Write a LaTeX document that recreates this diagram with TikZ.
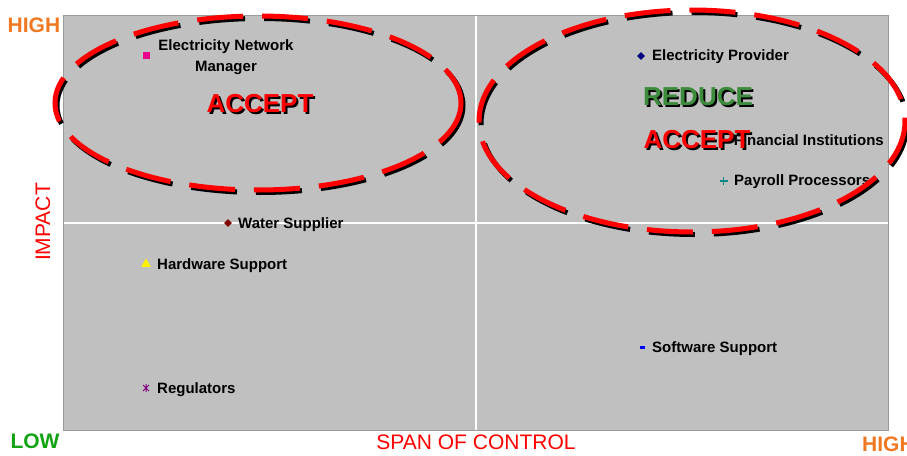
\documentclass[tikz,border=0pt]{standalone}
\usepackage{fontspec}
\setmainfont{Liberation Sans}
\usetikzlibrary{shapes.geometric}
\definecolor{plotgray}{HTML}{C0C0C0}
\definecolor{framegray}{HTML}{9A9A9A}
\definecolor{hiorange}{HTML}{F07822}
\definecolor{logreen}{HTML}{12A312}
\definecolor{reducegreen}{HTML}{3C8C3C}
\definecolor{regpurple}{HTML}{800080}
\definecolor{payteal}{HTML}{008A8A}
\tikzset{
  lbl/.style={font=\fontsize{15}{21}\selectfont\bfseries, inner sep=0pt, text=black},
  bigword/.style={font=\fontsize{26}{30}\selectfont\bfseries, inner sep=0pt},
  axis/.style={font=\fontsize{21}{24}\selectfont\bfseries, inner sep=0pt},
  axtitle/.style={font=\fontsize{21}{24}\selectfont, inner sep=0pt, text=red},
  ring/.style={line width=5pt, dash pattern=on 46pt off 19pt},
  mk/.style={inner sep=0pt, draw=none}
}
\begin{document}
\begin{tikzpicture}[x=1pt,y=-1pt]
\useasboundingbox (0,0) rectangle (907,455);
% plot area
\fill[plotgray] (63,15) rectangle (888,430);
\draw[white, line width=1.2pt] (476,15) -- (476,430);
\draw[white, line width=1.2pt] (63,223) -- (888,223);
\draw[framegray, line width=1pt] (63,15) rectangle (888,430);
% axis labels
\node[axis, text=hiorange] (hiY) at (34,25) {HIGH};
\node[axis, text=logreen] (loX) at (35,441) {LOW};
\node[axis, text=hiorange, anchor=west] (hiX) at (862,444) {HIGH};
\node[axtitle] (spanT) at (476,442) {SPAN OF CONTROL};
\node[axtitle, rotate=90] (impT) at (43,222) {IMPACT};
% markers and labels
\node[mk, fill=magenta, minimum size=7pt] (enmM) at (146,55) {};
\node[lbl, align=center] (enmL) at (226,57) {Electricity Network\\Manager};
\node[mk, diamond, fill={rgb,255:red,128;green,0;blue,0}, minimum size=8pt] (wsM) at (228,223) {};
\node[lbl, anchor=west] (wsL) at (238,225) {Water Supplier};
\node[mk, regular polygon, regular polygon sides=3, fill=yellow, minimum size=11pt] (hwM) at (146,264) {};
\node[lbl, anchor=west] (hwL) at (157,266) {Hardware Support};
\draw[regpurple, line width=1pt] (143,385) -- (149,391) (143,391) -- (149,385) (146,384) -- (146,392);
\node[lbl, anchor=west] (regL) at (157,390) {Regulators};
\fill[blue] (640,346) rectangle (645,348.5);
\node[lbl, anchor=west] (swL) at (652,349) {Software Support};
\node[mk, diamond, fill={rgb,255:red,0;green,0;blue,128}, minimum size=8pt] (epM) at (641,56) {};
\node[lbl, anchor=west] (epL) at (652,57) {Electricity Provider};
\node[lbl, anchor=east] (fiL) at (884,140) {Financial Institutions};
\draw[payteal, line width=1.3pt] (719.5,181) -- (727.5,181) (723.5,177) -- (723.5,185);
\node[lbl, anchor=west] (ppL) at (734,182) {Payroll Processors};
% rings
\draw[ring, black] (260,105.5) ellipse [x radius=203, y radius=87];
\draw[ring, red] (258,103) ellipse [x radius=203, y radius=87];
\draw[ring, black] (694,123.5) ellipse [x radius=213, y radius=111];
\draw[ring, red] (692,121) ellipse [x radius=213, y radius=111];
% big words
\node[bigword, text=black] (accLs) at (262,106) {ACCEPT};
\node[bigword, text=red] (accL) at (260,104) {ACCEPT};
\node[bigword, text=black] (redRs) at (700,99) {REDUCE};
\node[bigword, text=reducegreen] (redR) at (698,97) {REDUCE};
\node[bigword, text=black] (accRs) at (699,142) {ACCEPT};
\node[bigword, text=red] (accR) at (697,140) {ACCEPT};
\end{tikzpicture}
\end{document}
